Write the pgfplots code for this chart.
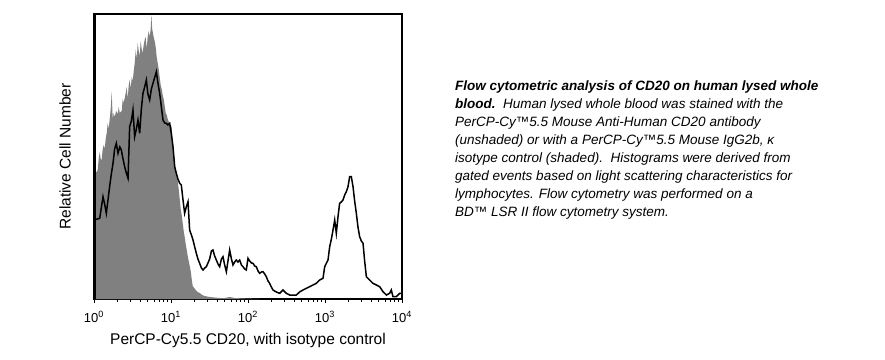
\documentclass[border=0pt]{standalone}
\usepackage{fontspec}
\setmainfont{Liberation Sans}
\usepackage{pgfplots}
\pgfplotsset{compat=1.18}
\definecolor{shade}{RGB}{128,128,128}
\begin{document}
\begin{tikzpicture}
\useasboundingbox (0,0) rectangle (885pt,359pt);
\begin{axis}[
  at={(94pt,60pt)}, anchor=south west,
  scale only axis, width=308pt, height=285pt,
  xmin=0, xmax=4, ymin=0, ymax=285,
  axis line style={line width=1.2pt},
  clip mode=individual,
  xtick={0,1,2,3,4},
  xticklabels={10\textsuperscript{0},10\textsuperscript{1},10\textsuperscript{2},10\textsuperscript{3},10\textsuperscript{4}},
  minor xtick={0.301,0.477,0.602,0.699,0.778,0.845,0.903,0.954,
               1.301,1.477,1.602,1.699,1.778,1.845,1.903,1.954,
               2.301,2.477,2.602,2.699,2.778,2.845,2.903,2.954,
               3.301,3.477,3.602,3.699,3.778,3.845,3.903,3.954},
  ytick=\empty,
  xtick pos=left,
  tick align=outside,
  major tick length=4pt, minor tick length=2.5pt,
  tick style={black, line width=0.8pt},
  xticklabel style={font=\fontsize{13}{13}\selectfont, yshift=-5pt},
  xlabel={PerCP-Cy5.5 CD20, with isotype control},
  ylabel={Relative Cell Number},
  every axis x label/.style={at={(axis description cs:0.5,-0.144)},anchor=center,font=\fontsize{15.5}{15.5}\selectfont},
  every axis y label/.style={at={(axis description cs:-0.094,0.5)},rotate=90,anchor=center,font=\fontsize{15.5}{15.5}\selectfont},
]
\addplot[fill=shade, draw=none] coordinates {
(0,127)(0.035,127)(0.048,129)(0.061,140)(0.074,147)(0.087,140)(0.1,139)(0.113,150)(0.126,154)(0.139,150)(0.152,160)(0.165,166)(0.178,176)(0.191,170)(0.204,180)(0.217,190)(0.23,207)(0.243,180)(0.256,186)(0.269,182)(0.288,188)(0.308,185)(0.321,192)(0.334,186)(0.36,188)(0.373,200)(0.386,196)(0.412,206)(0.425,212)(0.438,200)(0.451,214)(0.464,219)(0.477,210)(0.49,222)(0.503,218)(0.516,228)(0.529,236)(0.542,249)(0.555,240)(0.568,256)(0.581,248)(0.594,243)(0.606,258)(0.619,250)(0.632,246)(0.645,254)(0.658,259)(0.671,262)(0.684,250)(0.697,262)(0.71,268)(0.723,262)(0.736,270)(0.745,284)(0.756,270)(0.775,262)(0.788,258)(0.801,252)(0.814,242)(0.827,236)(0.84,230)(0.853,222)(0.866,214)(0.879,210)(0.892,204)(0.905,200)(0.918,193)(0.931,186)(0.944,184)(0.957,180)(0.983,175)(1.009,172)(1.022,156)(1.035,146)(1.048,135)(1.061,130)(1.074,125)(1.087,118)(1.1,110)(1.113,100)(1.126,90)(1.139,84)(1.152,76)(1.165,68)(1.178,62)(1.191,55)(1.204,49)(1.217,43)(1.23,38)(1.243,33)(1.256,28)(1.269,20)(1.282,13)(1.301,11)(1.321,9)(1.347,7)(1.373,6)(1.405,4)(1.438,3)(1.502,2)(1.567,1.5)(1.632,1)(1.7,1)(1.762,2)(1.826,1)(1.956,0.5)(2.152,0)
} \closedcycle;
\addplot[black, line width=1.5pt, sharp plot] coordinates {
(0,79)(0.074,80.7)(0.117,102.3)(0.138,95)(0.16,85.7)(0.203,112.3)(0.225,125)(0.247,135.7)(0.268,150)(0.29,155.7)(0.312,145.7)(0.335,152)(0.355,149)(0.377,140)(0.398,132.3)(0.42,126)(0.442,120.7)(0.463,172.3)(0.485,178)(0.506,189)(0.528,162.3)(0.55,170)(0.571,179)(0.593,165.7)(0.615,190)(0.636,205.7)(0.658,212)(0.68,219)(0.7,205)(0.723,199)(0.745,210)(0.766,215.7)(0.79,222)(0.81,227.3)(0.832,215)(0.853,205.7)(0.875,192)(0.896,179)(0.918,176)(0.939,175.7)(0.96,174)(0.983,175.7)(1.005,165)(1.026,152.3)(1.048,132.3)(1.069,125.7)(1.09,120)(1.113,115.7)(1.134,114)(1.156,99)(1.177,85.7)(1.199,92.3)(1.221,97.3)(1.242,69)(1.265,64)(1.286,59)(1.308,52)(1.329,45.7)(1.35,40)(1.372,35.7)(1.395,31)(1.416,29)(1.438,31)(1.459,32.3)(1.48,36)(1.502,40)(1.525,48)(1.545,49)(1.567,43)(1.589,39)(1.61,35)(1.632,32.3)(1.655,40)(1.675,42.3)(1.697,34)(1.719,27.3)(1.74,38)(1.762,49)(1.785,40)(1.805,34)(1.827,37)(1.848,39)(1.87,37)(1.892,39)(1.915,34)(1.935,32.3)(1.957,30)(1.978,29)(2.0,40.7)(2.022,38)(2.045,36)(2.065,35.7)(2.087,33)(2.108,32.3)(2.13,28)(2.152,25.7)(2.175,27)(2.195,27.3)(2.217,25)(2.238,22.3)(2.26,18)(2.281,15.7)(2.303,12)(2.325,9)(2.368,7)(2.411,5.7)(2.455,9)(2.498,5.7)(2.541,4)(2.585,4)(2.628,4)(2.67,7)(2.714,9)(2.758,10.7)(2.801,12.3)(2.844,14)(2.887,15.7)(2.931,19)(2.974,20.7)(2.996,32.3)(3.039,39)(3.061,52.3)(3.083,60)(3.104,69)(3.126,79)(3.147,65.7)(3.169,82.3)(3.19,95.7)(3.212,97)(3.234,99)(3.255,104)(3.277,107.3)(3.299,112.3)(3.32,122.3)(3.342,122.3)(3.364,112.3)(3.385,98)(3.407,85.7)(3.428,72)(3.45,62.3)(3.472,58)(3.494,55.7)(3.515,38)(3.537,22.3)(3.58,19)(3.623,15.7)(3.667,14)(3.71,12.3)(3.753,7.3)(3.797,4)(3.84,5.7)(3.861,9)(3.883,2.3)(3.926,2.3)(3.97,5.7)(4,5.7)
};
\draw[line width=3pt] (rel axis cs:0,0) -- (rel axis cs:0,1);
\end{axis}
\node[anchor=north west, inner sep=0pt, align=left, font=\fontsize{13.5}{18}\selectfont\itshape] at (455pt,278pt)
{\textbf{Flow cytometric analysis of CD20 on human lysed whole}\\
\textbf{blood.}\ \ Human lysed whole blood was stained with the\\
PerCP-Cy™5.5 Mouse Anti-Human CD20 antibody\\
(unshaded) or with a PerCP-Cy™5.5 Mouse IgG2b, κ\\
isotype control (shaded).\ \ Histograms were derived from\\
gated events based on light scattering characteristics for\\
lymphocytes. Flow cytometry was performed on a\\
BD™ LSR II flow cytometry system.};
\end{tikzpicture}
\end{document}
